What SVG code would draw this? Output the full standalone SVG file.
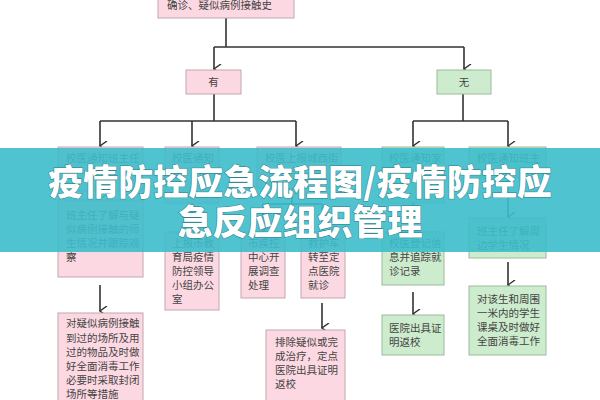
<svg xmlns="http://www.w3.org/2000/svg" width="600" height="400" viewBox="0 0 600 400">
<defs>
<marker id="ah" markerWidth="10" markerHeight="10" refX="5" refY="9" orient="auto" markerUnits="userSpaceOnUse"><path d="M0,2 L5,9 L10,2" fill="none" stroke="#333" stroke-width="1.4"/></marker>
<style>
.p{fill:#fcd9e2;stroke:#c4a6ae;stroke-width:1}
.g{fill:#cdebcd;stroke:#9cba9c;stroke-width:1}
.t{font-family:"Noto Sans CJK SC","Noto Sans",sans-serif;font-size:10.5px;fill:#444}
.c{stroke:#333;stroke-width:1.6;fill:none}
.a{marker-end:url(#ah)}
.ttl{font-family:"Noto Sans CJK SC",sans-serif;font-weight:900;font-size:35px;fill:#fff;text-anchor:middle}
</style>
</defs>
<rect width="600" height="400" fill="#fff"/>
<g id="connectors">
<path class="c" d="M226,18 V47 M214,47 H464"/>
<path class="c a" d="M214,47 V69"/><path class="c a" d="M464,47 V69"/>
<path class="c" d="M214,94 V121 M100,121 H296"/>
<path class="c a" d="M100,121 V146"/><path class="c a" d="M192,121 V146"/><path class="c a" d="M296,121 V146"/>
<path class="c" d="M463,94 V121 M413,121 H508"/>
<path class="c a" d="M413,121 V146"/><path class="c a" d="M508,121 V146"/>
<path class="c a" d="M100,191 V199"/>
<path class="c a" d="M192,203 V231"/>
<path class="c" d="M292,188 V204 M263,204 H322"/>
<path class="c a" d="M263,204 V231"/><path class="c a" d="M322,204 V231"/>
<path class="c a" d="M413,203 V231"/>
<path class="c a" d="M508,178 V217"/>
<path class="c a" d="M100,285 V311"/>
<path class="c a" d="M322,303 V328"/>
<path class="c a" d="M413,292 V314"/>
<path class="c a" d="M508,262 V285"/>
</g>
<g id="top"><rect class="p" x="158" y="-10" width="136" height="28"/><text class="t" x="167" y="9">确诊、疑似病例接触史</text></g>
<g id="you"><rect class="p" x="186" y="70" width="55" height="24"/><text class="t" x="213.5" y="86" text-anchor="middle">有</text></g>
<g id="wu"><rect class="g" x="437" y="70" width="54" height="24"/><text class="t" x="464" y="86" text-anchor="middle">无</text></g>
<g id="a1"><rect class="p" x="58" y="147" width="85" height="44"/><text class="t" x="66" y="162">校医通知班主任</text></g>
<g id="a2"><rect class="p" x="58" y="200" width="85" height="77"/><text class="t"><tspan x="66" y="219">班主任了解与疑</tspan><tspan x="66" y="233">似病例接触的师</tspan><tspan x="66" y="247">生情况并跟踪观</tspan><tspan x="66" y="261">察</tspan></text></g>
<g id="a3"><rect class="p" x="58" y="313" width="85" height="95"/><text class="t"><tspan x="66" y="327">对疑似病例接触</tspan><tspan x="66" y="342">到过的场所及用</tspan><tspan x="66" y="356">过的物品及时做</tspan><tspan x="66" y="370">好全面消毒工作</tspan><tspan x="66" y="384">必要时采取封闭</tspan><tspan x="66" y="398">场所等措施</tspan></text></g>
<g id="b1"><rect class="p" x="165" y="147" width="54" height="56"/><text class="t" x="172" y="162">校医通知</text></g>
<g id="b2"><rect class="p" x="165" y="232" width="54" height="78"/><text class="t"><tspan x="172" y="247">上报市教</tspan><tspan x="172" y="261">育局疫情</tspan><tspan x="172" y="275">防控领导</tspan><tspan x="172" y="289">小组办公</tspan><tspan x="172" y="303">室</tspan></text></g>
<g id="c1"><rect class="p" x="257" y="147" width="84" height="41"/><text class="t" x="265" y="162">校医上报城西街</text></g>
<g id="c2a"><rect class="p" x="241" y="232" width="44" height="66"/><text class="t"><tspan x="248" y="247">市疾控</tspan><tspan x="248" y="261">中心开</tspan><tspan x="248" y="275">展调查</tspan><tspan x="248" y="289">处理</tspan></text></g>
<g id="c2b"><rect class="p" x="301" y="232" width="44" height="66"/><text class="t"><tspan x="308" y="247">救护车</tspan><tspan x="308" y="261">转至定</tspan><tspan x="308" y="275">点医院</tspan><tspan x="308" y="289">就诊</tspan></text></g>
<g id="c3"><rect class="p" x="266" y="330" width="79" height="72"/><text class="t"><tspan x="275" y="346">排除疑似或完</tspan><tspan x="275" y="360">成治疗，定点</tspan><tspan x="275" y="374">医院出具证明</tspan><tspan x="275" y="388">返校</tspan></text></g>
<g id="d1"><rect class="g" x="382" y="147" width="62" height="56"/><text class="t" x="389" y="162">校医通知家</text></g>
<g id="d2"><rect class="g" x="382" y="232" width="62" height="53"/><text class="t"><tspan x="389" y="247">校医登记信</tspan><tspan x="389" y="261">息并追踪就</tspan><tspan x="389" y="275">诊记录</tspan></text></g>
<g id="d3"><rect class="g" x="382" y="315" width="62" height="40"/><text class="t"><tspan x="389" y="332">医院出具证</tspan><tspan x="389" y="346">明返校</tspan></text></g>
<g id="e1"><rect class="g" x="469" y="147" width="77" height="31"/><text class="t" x="477" y="162">校医通知班主</text></g>
<g id="e2"><rect class="g" x="469" y="218" width="77" height="40"/><text class="t"><tspan x="477" y="235">班主任了解周</tspan><tspan x="477" y="249">边学生情况</tspan></text></g>
<g id="e3"><rect class="g" x="469" y="286" width="77" height="69"/><text class="t"><tspan x="477" y="303">对该生和周围</tspan><tspan x="477" y="317">一米内的学生</tspan><tspan x="477" y="331">课桌及时做好</tspan><tspan x="477" y="345">全面消毒工作</tspan></text></g>
<g id="banner">
<rect x="0" y="148" width="600" height="104" fill="#3dbccb" opacity="0.9"/>
<text class="ttl" x="300" y="195" stroke="#2a7f8a" stroke-width="1" paint-order="stroke">疫情防控应急流程图/疫情防控应</text>
<text class="ttl" x="300" y="235" stroke="#2a7f8a" stroke-width="1" paint-order="stroke">急反应组织管理</text>
</g>
</svg>
